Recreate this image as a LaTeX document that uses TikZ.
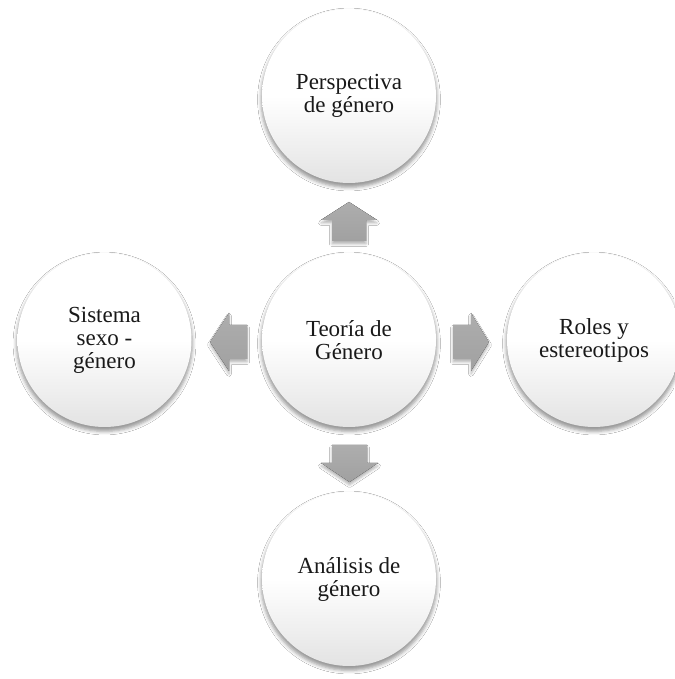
\documentclass[tikz,border=0pt]{standalone}
\usepackage{fontspec}
\setmainfont{Liberation Serif}
\usetikzlibrary{shadows.blur}

\tikzset{
  topic/.style={
    circle, minimum size=174pt, inner sep=0pt, align=center,
    font=\fontsize{23}{23}\selectfont, text=black!90,
    top color=white, bottom color=black!11, middle color=white,
    blur shadow={shadow xshift=0pt, shadow yshift=-3.5pt, shadow scale=1.01,
                 shadow blur radius=3.5pt, shadow opacity=40}},
  blockarrow/.style={
    top color=black!32, bottom color=black!37,
    blur shadow={shadow xshift=0pt, shadow yshift=-3pt,
                 shadow blur radius=2.5pt, shadow opacity=30}}
}

\begin{document}
\begin{tikzpicture}[x=1pt,y=1pt]
  \fill[white] (0,0) rectangle (674,679);
  \useasboundingbox (0,0) rectangle (674,679);

  % central topic and the four related concepts
  \node[topic] (teoria)   at (349,339)   {Teoría de\\Género};
  \node[topic] (persp)    at (349,583)   {Perspectiva\\de género};
  \node[topic] (sistema)  at (104.5,339) {Sistema\\sexo -\\género};
  \node[topic] (roles)    at (594,339)   {Roles y\\estereotipos};
  \node[topic] (analisis) at (349,100)   {Análisis de\\género};

  % block arrows pointing outwards from the centre
  \fill[blockarrow] (332,438) -- (366,438) -- (366,459) -- (377,459)
        -- (349,477) -- (321,459) -- (332,459) -- cycle;
  \fill[blockarrow] (332,234) -- (367,234) -- (367,216) -- (378,216)
        -- (349.5,197) -- (321,216) -- (332,216) -- cycle;
  \fill[blockarrow] (247,354) -- (229,354) -- (229,366) -- (210,337)
        -- (229,308) -- (229,320) -- (247,320) -- cycle;
  \fill[blockarrow] (453,354) -- (471,354) -- (471,366) -- (489,337)
        -- (471,308) -- (471,320) -- (453,320) -- cycle;
\end{tikzpicture}
\end{document}
